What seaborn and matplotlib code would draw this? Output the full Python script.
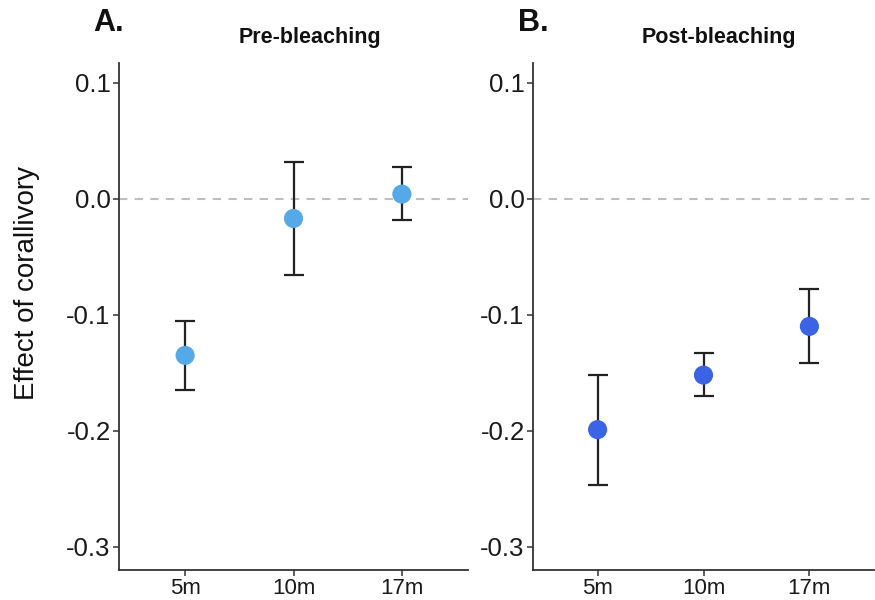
import numpy as np
import pandas as pd
import matplotlib
matplotlib.use("Agg")
import matplotlib.pyplot as plt
import seaborn as sns

depths = ["5m", "10m", "17m"]
pre_mean = [-0.135, -0.017, 0.004]
pre_low = [-0.165, -0.066, -0.018]
pre_high = [-0.105, 0.032, 0.027]
post_mean = [-0.199, -0.152, -0.110]
post_low = [-0.247, -0.170, -0.142]
post_high = [-0.152, -0.133, -0.078]
yticks = [0.1, 0.0, -0.1, -0.2, -0.3]
panel_titles = ["Pre-bleaching", "Post-bleaching"]
panel_letters = ["A.", "B."]
colors = ["#55A9E6", "#3B63E6"]

sns.set_theme(style="white")
plt.rcParams['font.family'] = ['Liberation Sans', 'DejaVu Sans']

fig = plt.figure(figsize=(8.75, 6), dpi=100)
W, H = 875, 600
axes_px = [(119, 468), (533, 874)]
top_px, bot_px = 63, 570

series = [(pre_mean, pre_low, pre_high), (post_mean, post_low, post_high)]
for i, ((l, r), (m, lo, hi)) in enumerate(zip(axes_px, series)):
    ax = fig.add_axes([l / W, 1 - bot_px / H, (r - l) / W, (bot_px - top_px) / H])
    df = pd.DataFrame({"depth": depths, "effect": m, "low": lo, "high": hi})
    ax.axhline(0, color="#BEBEBE", lw=1.5, ls=(0, (4, 3.5)), zorder=1)
    x = np.arange(len(depths))
    ax.errorbar(x, df["effect"],
                yerr=[df["effect"] - df["low"], df["high"] - df["effect"]],
                fmt="none", ecolor="#222222", elinewidth=1.6, capsize=7.5,
                capthick=1.6, zorder=2)
    sns.scatterplot(data=df, x="depth", y="effect", ax=ax, color=colors[i],
                    s=190, edgecolor="none", linewidth=0, zorder=3, legend=False)
    ax.set_xlim(-0.61, 2.61)
    ax.set_ylim(-0.32, 0.117)
    ax.set_yticks(yticks)
    ax.set_yticklabels([f"{v:.1f}" for v in yticks])
    ax.set_xticks(x)
    ax.set_xticklabels(depths)
    ax.set_xlabel("")
    ax.set_ylabel("")
    for s in ["top", "right"]:
        ax.spines[s].set_visible(False)
    for s in ["left", "bottom"]:
        ax.spines[s].set_color("#333333")
        ax.spines[s].set_linewidth(1.3)
    ax.tick_params(axis="y", labelsize=18.5, length=4, width=1.1, color="#333333",
                   left=True, labelcolor="#1a1a1a", pad=2)
    ax.tick_params(axis="x", labelsize=16, length=4, width=1.1, color="#333333",
                   bottom=True, labelcolor="#1a1a1a", pad=2)

fig.text(310 / W, 1 - 38 / H, panel_titles[0], ha="center", va="center",
         fontsize=15.5, fontweight="bold", color="#111111")
fig.text(719 / W, 1 - 38 / H, panel_titles[1], ha="center", va="center",
         fontsize=15.5, fontweight="bold", color="#111111")
fig.text(109 / W, 1 - 23 / H, panel_letters[0], ha="center", va="center",
         fontsize=22, fontweight="bold", color="#111111")
fig.text(533 / W, 1 - 23 / H, panel_letters[1], ha="center", va="center",
         fontsize=22, fontweight="bold", color="#111111")
fig.text(27 / W, 1 - 283 / H, "Effect of corallivory", rotation=90,
         ha="center", va="center", fontsize=20, color="#111111")

fig.savefig("out.png", dpi=100)
